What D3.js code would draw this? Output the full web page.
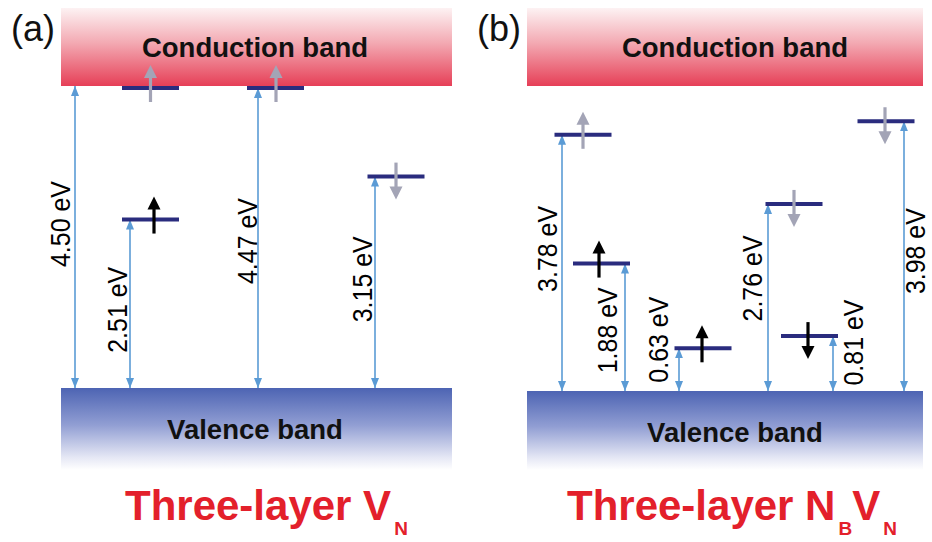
<!DOCTYPE html>
<html>
<head>
<meta charset="utf-8">
<script src="https://cdn.jsdelivr.net/npm/d3@7/dist/d3.min.js"></script>
<style>
  html, body { margin: 0; padding: 0; background: #ffffff; }
  svg { display: block; font-family: "Liberation Sans", Arial, Helvetica, sans-serif; }
</style>
</head>
<body>
<svg id="chart" width="932" height="542"></svg>
<script>
// ---- data -------------------------------------------------------------
// Band gap (eV) shown between valence-band top and conduction-band bottom
const bandGapA = 4.50;
const bandGapB = 4.50;
const gapLabelA = "4.50 eV";

// Defect levels, three-layer V_N
const energyA   = [4.47, 2.51, 4.47, 3.15];
const labelA    = [null, "2.51 eV", "4.47 eV", "3.15 eV"];
const spinA     = ["up", "up", "up", "down"];
const occupiedA = [false, true, false, false];

// Defect levels, three-layer N_B V_N
const energyB   = [3.78, 1.88, 0.63, 2.76, 0.81, 3.98];
const labelB    = ["3.78 eV", "1.88 eV", "0.63 eV", "2.76 eV", "0.81 eV", "3.98 eV"];
const spinB     = ["up", "up", "up", "down", "down", "down"];
const occupiedB = [false, true, true, false, true, false];

// ---- layout (horizontal slots and label offsets, px) ------------------
// barX: bar centre, arrowDx: gap arrow offset from bar centre,
// spinDx: spin arrow offset, labelDx / labelDy: label offset from arrow midpoint
const layoutA = [
  { barX: 150.5, arrowDx: null,  spinDx: 0,    labelDx: 0,   labelDy: 0 },
  { barX: 150.5, arrowDx: -20.5, spinDx: 3.5,  labelDx: -13, labelDy: 6 },
  { barX: 275.5, arrowDx: -17.5, spinDx: 0.5,  labelDx: -11, labelDy: 3 },
  { barX: 396,   arrowDx: -21,   spinDx: 0,    labelDx: -13, labelDy: -3 }
];
const layoutB = [
  { barX: 583,   arrowDx: -21,   spinDx: 0,    labelDx: -15, labelDy: -14 },
  { barX: 601.5, arrowDx: 23.5,  spinDx: -2.5, labelDx: -18, labelDy: 3 },
  { barX: 703,   arrowDx: -24,   spinDx: -1,   labelDx: -21, labelDy: -30 },
  { barX: 794,   arrowDx: -26,   spinDx: 0,    labelDx: -16, labelDy: -19 },
  { barX: 809.5, arrowDx: 23.5,  spinDx: -1.5, labelDx: 20,  labelDy: -21 },
  { barX: 886,   arrowDx: 18,    spinDx: -1,   labelDx: 11,  labelDy: -5 }
];

const panels = [
  { id: "a", x0: 61, x1: 452, cbTop: 8, cbBottom: 86, vbTop: 388, vbBottom: 470,
    gap: bandGapA, energy: energyA, label: labelA, spin: spinA, occ: occupiedA, layout: layoutA,
    tag: "(a)", tagX: 11, bandTextX: 255, cbTextY: 57, vbTextY: 439,
    gapArrow: { x: 75, label: gapLabelA, labelDx: -15, labelDy: -13 },
    titleX: 125, title: [["Three-layer V", false], ["N", true]] },
  { id: "b", x0: 527, x1: 923, cbTop: 8, cbBottom: 86, vbTop: 391, vbBottom: 470,
    gap: bandGapB, energy: energyB, label: labelB, spin: spinB, occ: occupiedB, layout: layoutB,
    tag: "(b)", tagX: 477, bandTextX: 735, cbTextY: 57, vbTextY: 442,
    gapArrow: null,
    titleX: 567, title: [["Three-layer N", false], ["B", true], ["V", false], ["N", true]] }
];

// ---- styles -----------------------------------------------------------
const gapColor = "#5b9bd5";
const barColor = "#2a2c7e";
const spinGray = "#a3a4b6";
const spinBlack = "#000000";
const titleColor = "#e3202b";

const svg = d3.select("#chart");
svg.append("rect").attr("width", 932).attr("height", 542).attr("fill", "#ffffff");

const defs = svg.append("defs");

// Conduction band: pale at top, saturated red at the band edge
const cbGrad = defs.append("linearGradient").attr("id", "cbGrad")
  .attr("x1", 0).attr("y1", 0).attr("x2", 0).attr("y2", 1);
[[0, "#fdf2f3"], [0.45, "#f3a9b2"], [1, "#e63f57"]].forEach(([o, c]) =>
  cbGrad.append("stop").attr("offset", o).attr("stop-color", c));

// Valence band: solid blue at the band edge fading to white
const vbGrad = defs.append("linearGradient").attr("id", "vbGrad")
  .attr("x1", 0).attr("y1", 0).attr("x2", 0).attr("y2", 1);
[[0, "#4d64b3"], [0.45, "#919ed3"], [0.85, "#e6e8f5"], [1, "#ffffff"]].forEach(([o, c]) =>
  vbGrad.append("stop").attr("offset", o).attr("stop-color", c));

// Small arrowhead for the energy-gap arrows
defs.append("marker").attr("id", "gapHead")
  .attr("viewBox", "0 0 10 8").attr("refX", 10).attr("refY", 4)
  .attr("markerWidth", 10).attr("markerHeight", 8)
  .attr("markerUnits", "userSpaceOnUse")
  .attr("orient", "auto-start-reverse")
  .append("path").attr("d", "M0,0 L10,4 L0,8 Z").attr("fill", gapColor);

function gapArrow(g, x, y1, y2) {
  g.append("line")
    .attr("x1", x).attr("x2", x).attr("y1", y1).attr("y2", y2)
    .attr("stroke", gapColor).attr("stroke-width", 1.6)
    .attr("marker-start", "url(#gapHead)")
    .attr("marker-end", "url(#gapHead)");
}

function gapLabel(g, x, y, text) {
  g.append("text")
    .attr("transform", `translate(${x},${y}) rotate(-90)`)
    .attr("text-anchor", "middle")
    .attr("dy", "0.36em")
    .attr("font-size", 28)
    .attr("textLength", 86)
    .attr("lengthAdjust", "spacingAndGlyphs")
    .attr("fill", "#000")
    .text(text);
}

function spinArrow(g, x, yLevel, dir, color) {
  const tail = 14, reach = 23, headL = 13, headW = 13;
  const s = dir === "up" ? -1 : 1;
  const y0 = yLevel - s * tail;
  const yTip = yLevel + s * reach;
  const yBase = yTip - s * headL;
  g.append("line")
    .attr("x1", x).attr("x2", x).attr("y1", y0).attr("y2", yBase + s * 1)
    .attr("stroke", color).attr("stroke-width", 3.2);
  g.append("path")
    .attr("d", `M${x - headW / 2},${yBase} L${x + headW / 2},${yBase} L${x},${yTip} Z`)
    .attr("fill", color);
}

panels.forEach(p => {
  const g = svg.append("g").attr("class", "panel-" + p.id);
  const y = d3.scaleLinear().domain([0, p.gap]).range([p.vbTop, p.cbBottom]);

  // bands
  g.append("rect").attr("x", p.x0).attr("y", p.cbTop)
    .attr("width", p.x1 - p.x0).attr("height", y(p.gap) - p.cbTop)
    .attr("fill", "url(#cbGrad)");
  g.append("rect").attr("x", p.x0).attr("y", y(0))
    .attr("width", p.x1 - p.x0).attr("height", p.vbBottom - y(0))
    .attr("fill", "url(#vbGrad)");

  g.append("text").attr("x", p.bandTextX).attr("y", p.cbTextY)
    .attr("text-anchor", "middle").attr("font-size", 27.5).attr("font-weight", "bold")
    .attr("fill", "#111").text("Conduction band");
  g.append("text").attr("x", p.bandTextX).attr("y", p.vbTextY)
    .attr("text-anchor", "middle").attr("font-size", 27.5).attr("font-weight", "bold")
    .attr("fill", "#111").text("Valence band");

  // panel tag
  g.append("text").attr("x", p.tagX).attr("y", 41)
    .attr("font-size", 36).attr("fill", "#111").text(p.tag);

  // full band-gap arrow
  if (p.gapArrow) {
    gapArrow(g, p.gapArrow.x, y(0), y(p.gap));
    gapLabel(g, p.gapArrow.x + p.gapArrow.labelDx,
      (y(0) + y(p.gap)) / 2 + p.gapArrow.labelDy, p.gapArrow.label);
  }

  // defect levels
  p.energy.forEach((e, i) => {
    const L = p.layout[i];
    const yl = y(e);
    if (L.arrowDx !== null) {
      const ax = L.barX + L.arrowDx;
      gapArrow(g, ax, y(0), yl);
      if (p.label[i]) gapLabel(g, ax + L.labelDx, (y(0) + yl) / 2 + L.labelDy, p.label[i]);
    }
  });
  p.energy.forEach((e, i) => {
    const L = p.layout[i];
    g.append("line")
      .attr("x1", L.barX - 28.5).attr("x2", L.barX + 28.5)
      .attr("y1", y(e)).attr("y2", y(e))
      .attr("stroke", barColor).attr("stroke-width", 4);
  });
  p.energy.forEach((e, i) => {
    const L = p.layout[i];
    spinArrow(g, L.barX + L.spinDx, y(e), p.spin[i], p.occ[i] ? spinBlack : spinGray);
  });

  // title with subscripts
  const t = g.append("text").attr("x", p.titleX).attr("y", 520)
    .attr("font-weight", "bold").attr("fill", titleColor);
  let sub = false;
  p.title.forEach(([txt, isSub]) => {
    const ts = t.append("tspan").text(txt);
    if (isSub) {
      ts.attr("font-size", 19).attr("dx", 3).attr("dy", sub ? 0 : 15);
    } else {
      ts.attr("font-size", 42).attr("dy", sub ? -15 : 0);
    }
    sub = isSub;
  });
});
</script>
</body>
</html>
